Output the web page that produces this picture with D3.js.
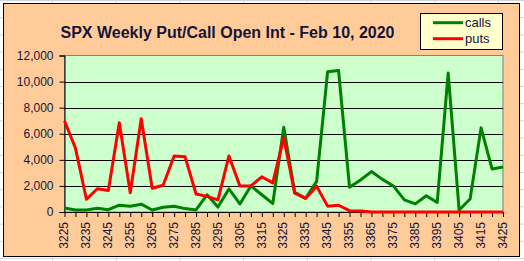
<!DOCTYPE html>
<html>
<head>
<meta charset="utf-8">
<script src="https://cdn.jsdelivr.net/npm/d3@7"></script>
<style>
 body { margin: 0; background: #fff; }
 svg { display: block; font-family: Arial, "Liberation Sans", sans-serif; }
</style>
</head>
<body>
<div id="chart"></div>
<script>
// strikes on the category axis
var strikes = [3225, 3230, 3235, 3240, 3245, 3250, 3255, 3260, 3265, 3270,
 3275, 3280, 3285, 3290, 3295, 3300, 3305, 3310, 3315, 3320,
 3325, 3330, 3335, 3340, 3345, 3350, 3355, 3360, 3365, 3370,
 3375, 3380, 3385, 3390, 3395, 3400, 3405, 3410, 3415, 3420, 3425];
var calls = [310, 155, 155, 290, 180, 520, 440, 600, 155, 360,
 440, 260, 155, 1320, 380, 1770, 620, 2000, 1320, 640,
 6500, 1500, 1050, 2350, 10750, 10850, 1900, 2450, 3100, 2500,
 2000, 930, 620, 1250, 730, 10650, 150, 1000, 6450, 3300, 3450];
var puts = [7000, 4900, 980, 1780, 1650, 6850, 1480, 7150, 1820, 2050,
 4300, 4230, 1380, 1200, 930, 4300, 2000, 2000, 2700, 2230,
 5700, 1450, 1050, 1980, 450, 520, 100, 80, 0, 0,
 0, 0, 0, 0, 0, 0, 0, 0, 0, 0, 0];
var yTicks = [0, 2000, 4000, 6000, 8000, 10000, 12000];
var seriesNames = ["calls", "puts"];
var seriesColors = ["#008000", "#ff0000"];
var title = "SPX Weekly Put/Call Open Int - Feb 10, 2020";

var w = 524, h = 261;
var txt = "#14143a";
var svg = d3.select("#chart").append("svg").attr("width", w).attr("height", h);

// spreadsheet cells behind the chart
var grid = svg.append("g").attr("stroke", "#d4d4d4").attr("stroke-width", 1);
for (var gx = 52.5; gx < w; gx += 63.7) {
 grid.append("line").attr("x1", gx).attr("x2", gx).attr("y1", 0).attr("y2", h);
}
for (var gy = 0.5; gy < h; gy += 17.2) {
 grid.append("line").attr("x1", 0).attr("x2", w).attr("y1", gy).attr("y2", gy);
}

// chart area
svg.append("rect").attr("x", 3.5).attr("y", 3.5).attr("width", 516).attr("height", 253)
 .attr("fill", "#ffcc99").attr("stroke", "#000").attr("stroke-width", 1);

var pLeft = 64.5, pRight = 503, pTop = 55.5, pBottom = 212;
var x = d3.scalePoint().domain(strikes).range([pLeft, pRight]);
var y = d3.scaleLinear().domain([0, 12000]).range([pBottom, pTop]);

// plot area
svg.append("rect").attr("x", pLeft).attr("y", pTop).attr("width", pRight - pLeft).attr("height", pBottom - pTop)
 .attr("fill", "#ccffcc").attr("stroke", "#808080").attr("stroke-width", 1);

svg.append("g").selectAll("line").data(yTicks.filter(function (d) { return d > 0 && d < 12000; }))
 .join("line")
 .attr("x1", pLeft).attr("x2", pRight)
 .attr("y1", function (d) { return Math.round(y(d)) + 0.5; })
 .attr("y2", function (d) { return Math.round(y(d)) + 0.5; })
 .attr("stroke", "#000").attr("stroke-width", 1);

// y axis
var yAxis = svg.append("g").attr("transform", "translate(" + pLeft + ",0)")
 .call(d3.axisLeft(y).tickValues(yTicks).tickSize(5).tickPadding(6).tickFormat(d3.format(",")));
yAxis.select(".domain").attr("stroke", "#000");
yAxis.selectAll("line").attr("stroke", "#000");
yAxis.selectAll("text").attr("fill", txt).attr("font-size", "12px").attr("font-family", "Arial, 'Liberation Sans', sans-serif");

// x axis
var xAxis = svg.append("g").attr("transform", "translate(0," + pBottom + ")")
 .call(d3.axisBottom(x).tickSize(5).tickPadding(0).tickSizeOuter(0)
 .tickFormat(function (d, i) { return i % 2 === 0 ? d : ""; }));
xAxis.select(".domain").attr("stroke", "#000").attr("d", "M" + pLeft + ",0.5H" + pRight);
xAxis.selectAll("line").attr("stroke", "#000");
xAxis.selectAll("text")
 .attr("fill", txt).attr("font-size", "12px").attr("font-family", "Arial, 'Liberation Sans', sans-serif")
 .attr("text-anchor", "end").attr("dy", "0.35em").attr("y", 0)
 .attr("transform", "translate(-1,10) rotate(-90)");

// series lines
var line = d3.line().x(function (d, i) { return x(strikes[i]); }).y(function (d) { return y(d); });
[calls, puts].forEach(function (s, k) {
 svg.append("path").datum(s).attr("d", line).attr("fill", "none")
 .attr("stroke", seriesColors[k]).attr("stroke-width", 3).attr("stroke-linejoin", "round");
});

// title
svg.append("text").attr("x", 227.5).attr("y", 38).attr("text-anchor", "middle")
 .attr("font-size", "16px").attr("font-weight", "bold").attr("fill", txt).text(title);

// legend
var lg = svg.append("g");
lg.append("rect").attr("x", 420.5).attr("y", 13.5).attr("width", 82).attr("height", 36)
 .attr("fill", "#ffffcc").attr("stroke", "#000").attr("stroke-width", 1);
seriesNames.forEach(function (n, k) {
 var ly = 22.7 + k * 16;
 lg.append("line").attr("x1", 433).attr("x2", 463).attr("y1", ly).attr("y2", ly)
 .attr("stroke", seriesColors[k]).attr("stroke-width", 3);
 lg.append("text").attr("x", 465).attr("y", ly).attr("dy", "0.35em")
 .attr("font-size", "13px").attr("fill", txt).text(n);
});
</script>
</body>
</html>
